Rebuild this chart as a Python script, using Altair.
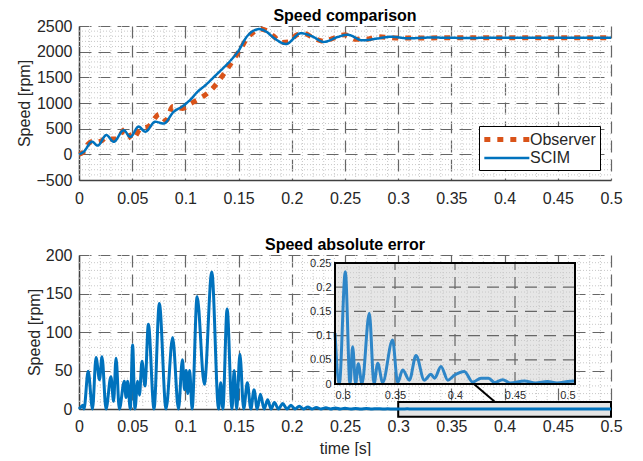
import altair as alt
import pandas as pd

# ---------------- data ----------------
scim_t = [0, 0.0044, 0.0122, 0.0175, 0.0257, 0.0326, 0.042, 0.0482, 0.056, 0.0623,
          0.0717, 0.0796, 0.089, 0.0966, 0.104, 0.1115, 0.119, 0.127, 0.135, 0.143,
          0.150, 0.158, 0.1695, 0.176, 0.183, 0.1946, 0.2086, 0.219, 0.230, 0.243,
          0.2525, 0.2666, 0.28, 0.293, 0.31, 0.33, 0.36, 0.4, 0.45, 0.5]
scim_v = [0, 50, 245, 170, 375, 245, 470, 340, 540, 440,
          635, 600, 830, 927, 1050, 1220, 1350, 1510, 1670, 1840,
          2020, 2300, 2440, 2390, 2270, 2150, 2360, 2300, 2190, 2285,
          2330, 2220, 2255, 2290, 2260, 2275, 2268, 2270, 2270, 2270]

obs_t = [0, 0.004, 0.0085, 0.0125, 0.016, 0.021, 0.0254, 0.030, 0.035, 0.044,
         0.050, 0.058, 0.065, 0.0756, 0.082, 0.088, 0.0975, 0.105, 0.1147, 0.124,
         0.1366, 0.146, 0.152, 0.158, 0.164, 0.17, 0.176, 0.183, 0.19, 0.197,
         0.205, 0.212, 0.22, 0.23, 0.24, 0.25, 0.26, 0.27, 0.28, 0.29,
         0.3, 0.35, 0.4, 0.45, 0.5]
obs_v = [0, 40, 200, 250, 240, 260, 330, 300, 300, 500,
         290, 500, 540, 780, 660, 930, 895, 990, 1100, 1250,
         1580, 1870, 2060, 2260, 2380, 2440, 2410, 2300, 2180, 2190,
         2330, 2350, 2270, 2200, 2270, 2330, 2240, 2240, 2290, 2280,
         2265, 2270, 2270, 2270, 2270]

err_t = [0, 0.002, 0.0035, 0.0047, 0.0086, 0.0127, 0.016, 0.0193, 0.0216, 0.0254,
         0.030, 0.0325, 0.0348, 0.0379, 0.0426, 0.0442, 0.0457, 0.0482, 0.0504, 0.0526,
         0.0551, 0.0568, 0.0592, 0.062, 0.0652, 0.0705, 0.0755, 0.0818, 0.088, 0.0935,
         0.0972, 0.0992, 0.1008, 0.1022, 0.104, 0.1063, 0.111, 0.1178, 0.1248, 0.1312,
         0.1332, 0.1352, 0.1392, 0.1438, 0.1458, 0.1482, 0.1512, 0.1548, 0.1582, 0.1615,
         0.1645, 0.1675, 0.1705, 0.174, 0.1773, 0.1805, 0.1836, 0.1875, 0.1914, 0.1955,
         0.1992, 0.203, 0.207, 0.211, 0.215, 0.219, 0.223, 0.2275, 0.232, 0.2365,
         0.241, 0.2455, 0.25, 0.2555, 0.26, 0.265, 0.27, 0.2755, 0.28, 0.2855,
         0.29, 0.2955, 0.3, 0.3036, 0.3086, 0.3125, 0.3147, 0.3172, 0.3194, 0.3225,
         0.3286, 0.3325, 0.3356, 0.3397, 0.348, 0.3522, 0.3564, 0.362, 0.3675, 0.3744,
         0.38, 0.383, 0.3883, 0.394, 0.3994, 0.4078, 0.4147, 0.4217, 0.428, 0.433,
         0.4397, 0.446, 0.4578, 0.467, 0.477, 0.485, 0.494, 0.5]
err_v = [0, 3, 5, 0, 49, 0, 67, 38, 68, 0,
         42, 10, 66, 0, 36, 15, 36, 0, 83, 0,
         36, 18, 62, 30, 110, 0, 137, 0, 93, 0,
         64, 25, 50, 20, 50, 0, 146, 32, 178, 0,
         34, 0, 130, 0, 50, 0, 71, 0, 34, 0,
         25, 0, 19, 0, 12, 0, 8.5, 0, 7, 0,
         5, 0, 3.5, 0, 2.5, 0, 2, 0, 1.5, 0,
         1.2, 0, 1, 0, 0.8, 0, 0.6, 0, 0.4, 0,
         0.3, 0, 0.105, 0, 0.232, 0, 0.077, 0, 0.042, 0,
         0.146, 0, 0.043, 0.003, 0.091, 0.003, 0.029, 0.008, 0.059, 0.008,
         0.02, 0.012, 0.036, 0.008, 0.018, 0.026, 0.004, 0.012, 0.012, 0.003,
         0.009, 0.002, 0.006, 0.002, 0.005, 0.002, 0.005, 0.006]

x_ticks = [0, 0.05, 0.1, 0.15, 0.2, 0.25, 0.3, 0.35, 0.4, 0.45, 0.5]
top_y_ticks = [-500, 0, 500, 1000, 1500, 2000, 2500]
bot_y_ticks = [0, 50, 100, 150, 200]
inset_x_ticks = [0.3, 0.35, 0.4, 0.45, 0.5]
inset_y_ticks = [0, 0.05, 0.1, 0.15, 0.2, 0.25]
series_names = ["Observer", "SCIM"]

# zoom box (main-axes units) and connector line end points
zoom_box = {"t0": [0.3], "t1": [0.5], "lo": [-10], "hi": [9]}
connector = {"ta": [0.3712], "va": [32.5], "tb": [0.391], "vb": [9.1]}
inset_box = {"t0": [0.3], "t1": [0.5], "lo": [0], "hi": [0.25]}

# ---------------- styling ----------------
ORANGE = "#D95319"
BLUE = "#0072BD"
INSET_BLUE = "#2E86C8"
FONT = "Liberation Sans"
W, H = 532, 154
MAJOR_GRID = "#666666"
MINOR_GRID = "#c8c8c8"

x_minor = [round(i * 0.01, 2) for i in range(51) if i % 5]
top_y_minor = [v for v in range(-500, 2501, 100) if v % 500]
bot_y_minor = [v for v in range(0, 201, 10) if v % 50]
inset_x_minor = [round(0.3 + i * 0.01, 2) for i in range(21) if i % 5]
inset_y_minor = [round(i * 0.01, 2) for i in range(26) if i % 5]
inset_x_major = [0.35, 0.4, 0.45]
inset_y_major = [0.05, 0.1, 0.15, 0.2]

xs = alt.Scale(domain=[0, 0.5], nice=False, zero=False)
ys_top = alt.Scale(domain=[-500, 2500], nice=False, zero=False)
ys_bot = alt.Scale(domain=[0, 200], nice=False, zero=False)
xs_in = alt.Scale(domain=[0.3, 0.5], range=[256, 496], nice=False, zero=False)
ys_in = alt.Scale(domain=[0, 0.25], range=[129, 8], nice=False, zero=False)

ax_x_top = alt.Axis(title=None, values=x_ticks, format="~g", grid=True, labelPadding=10,
                    labelFlush=False)
ax_x_bot = alt.Axis(title="time [s]", titlePadding=6, values=x_ticks, format="~g",
                    grid=True, labelPadding=9, labelFlush=False)
ax_y_top = alt.Axis(values=top_y_ticks, format="d", grid=True, title="Speed [rpm]",
                    titlePadding=3, labelPadding=7)
ax_y_bot = alt.Axis(values=bot_y_ticks, format="d", grid=True, title="Speed [rpm]",
                    titlePadding=3, labelPadding=7)
ax_x_in = alt.Axis(orient="bottom", offset=-25, values=inset_x_ticks, format="~g",
                   grid=False, domain=False, ticks=False, labelFontSize=11,
                   labelPadding=5, title=None)
ax_y_in = alt.Axis(orient="left", offset=-256, values=inset_y_ticks, format="~g",
                   grid=False, domain=False, ticks=False, labelFontSize=11,
                   labelPadding=4, title=None)


def minor_x(scale, axis):
    return alt.Chart(pd.DataFrame({"g": x_minor})).mark_rule(
        color=MINOR_GRID, strokeDash=[1, 2], strokeWidth=1
    ).encode(x=alt.X("g:Q", scale=scale, axis=axis, title=axis.title))


def minor_y(vals, scale, axis):
    return alt.Chart(pd.DataFrame({"g": vals})).mark_rule(
        color=MINOR_GRID, strokeDash=[1, 2], strokeWidth=1
    ).encode(y=alt.Y("g:Q", scale=scale, axis=axis, title=axis.title))


# ---------------- top panel ----------------
top_df = pd.DataFrame({
    "t": obs_t + scim_t,
    "v": obs_v + scim_v,
    "series": ["Observer"] * len(obs_t) + ["SCIM"] * len(scim_t),
})

leg = alt.Legend(
    title=None, orient="none", legendX=400, legendY=100,
    symbolType="M-1.23,0H5.54", symbolSize=177, labelFont=FONT, labelFontSize=16,
    labelColor="#262626", labelOffset=28, strokeColor="black", fillColor="white",
    padding=4, rowPadding=0, cornerRadius=0,
)

top_line = alt.Chart(top_df).mark_line(interpolate="monotone", strokeCap="butt").encode(
    x=alt.X("t:Q", scale=xs, axis=ax_x_top, title=None),
    y=alt.Y("v:Q", scale=ys_top, axis=ax_y_top, title="Speed [rpm]"),
    color=alt.Color("series:N", scale=alt.Scale(domain=series_names, range=[ORANGE, BLUE]), legend=leg),
    strokeDash=alt.StrokeDash("series:N", scale=alt.Scale(domain=series_names, range=[[6, 7], [1, 0]]), legend=leg),
    strokeWidth=alt.StrokeWidth("series:N", scale=alt.Scale(domain=series_names, range=[5, 2.5]), legend=leg),
)

top = alt.layer(minor_x(xs, ax_x_top), minor_y(top_y_minor, ys_top, ax_y_top), top_line).properties(
    width=W, height=H,
    title=alt.Title("Speed comparison", frame="group", offset=-6),
)

# ---------------- bottom panel ----------------
err_df = pd.DataFrame({"t": err_t, "v": err_v})
inset_df = err_df[err_df["t"] >= 0.3]

zoom_rect = alt.Chart(pd.DataFrame(zoom_box)).mark_rect(
    fill="#e4e4e4", stroke="black", strokeWidth=2
).encode(
    x=alt.X("t0:Q", scale=xs, axis=ax_x_bot, title="time [s]"), x2="t1:Q",
    y=alt.Y("lo:Q", scale=ys_bot, axis=ax_y_bot, title="Speed [rpm]"), y2="hi:Q",
)

err_line = alt.Chart(err_df).mark_line(interpolate="monotone", color=BLUE, strokeWidth=3).encode(
    x=alt.X("t:Q", scale=xs, axis=ax_x_bot, title="time [s]"),
    y=alt.Y("v:Q", scale=ys_bot, axis=ax_y_bot, title="Speed [rpm]"),
)

conn = alt.Chart(pd.DataFrame(connector)).mark_rule(color="black", strokeWidth=2).encode(
    x=alt.X("ta:Q", scale=xs, axis=ax_x_bot, title="time [s]"), x2="tb:Q",
    y=alt.Y("va:Q", scale=ys_bot, axis=ax_y_bot, title="Speed [rpm]"), y2="vb:Q",
)

main_bot = alt.layer(minor_x(xs, ax_x_bot), minor_y(bot_y_minor, ys_bot, ax_y_bot),
                     zoom_rect, err_line, conn)


def inset_rect(**mark):
    return alt.Chart(pd.DataFrame(inset_box)).mark_rect(**mark).encode(
        x=alt.X("t0:Q", scale=xs_in, axis=ax_x_in, title=None), x2="t1:Q",
        y=alt.Y("lo:Q", scale=ys_in, axis=ax_y_in, title=None), y2="hi:Q",
    )


def inset_vrules(vals, color, dash, width):
    df = pd.DataFrame({"g": vals, "lo": [0] * len(vals), "hi": [0.25] * len(vals)})
    return alt.Chart(df).mark_rule(color=color, strokeDash=dash, strokeWidth=width).encode(
        x=alt.X("g:Q", scale=xs_in, axis=ax_x_in, title=None),
        y=alt.Y("lo:Q", scale=ys_in, axis=ax_y_in, title=None), y2="hi:Q",
    )


def inset_hrules(vals, color, dash, width):
    df = pd.DataFrame({"g": vals, "lo": [0.3] * len(vals), "hi": [0.5] * len(vals)})
    return alt.Chart(df).mark_rule(color=color, strokeDash=dash, strokeWidth=width).encode(
        y=alt.Y("g:Q", scale=ys_in, axis=ax_y_in, title=None),
        x=alt.X("lo:Q", scale=xs_in, axis=ax_x_in, title=None), x2="hi:Q",
    )


inset_line = alt.Chart(inset_df).mark_line(
    interpolate="monotone", color=INSET_BLUE, strokeWidth=3
).encode(
    x=alt.X("t:Q", scale=xs_in, axis=ax_x_in, title=None),
    y=alt.Y("v:Q", scale=ys_in, axis=ax_y_in, title=None),
)

inset = alt.layer(
    inset_rect(fill="#e6e6e6"),
    inset_vrules(inset_x_minor, MINOR_GRID, [1, 2], 1),
    inset_hrules(inset_y_minor, MINOR_GRID, [1, 2], 1),
    inset_vrules(inset_x_major, MAJOR_GRID, [12, 7], 1.2),
    inset_hrules(inset_y_major, MAJOR_GRID, [12, 7], 1.2),
    inset_line,
    inset_rect(fillOpacity=0, stroke="black", strokeWidth=2),
)

bottom = alt.layer(main_bot, inset).resolve_scale(x="independent", y="independent").properties(
    width=W, height=H,
    title=alt.Title("Speed absolute error", frame="group", offset=-6),
)

chart = alt.vconcat(top, bottom, spacing=31).configure(
    background="white", padding={"left": 8, "top": 0, "right": 0, "bottom": 0}
).configure_view(stroke=None).configure_axis(
    labelFont=FONT, labelFontSize=16, labelColor="#262626",
    titleFont=FONT, titleFontSize=16, titleColor="#262626", titleFontWeight="normal",
    domainColor="#404040", domainWidth=1.5, gridColor=MAJOR_GRID, gridDash=[12, 7],
    gridWidth=1.2, gridOpacity=1, ticks=False,
).configure_title(
    font=FONT, fontSize=16, fontWeight="bold", color="black", anchor="middle",
)

chart.save("out.html", embed_options={"renderer": "svg", "actions": False})
